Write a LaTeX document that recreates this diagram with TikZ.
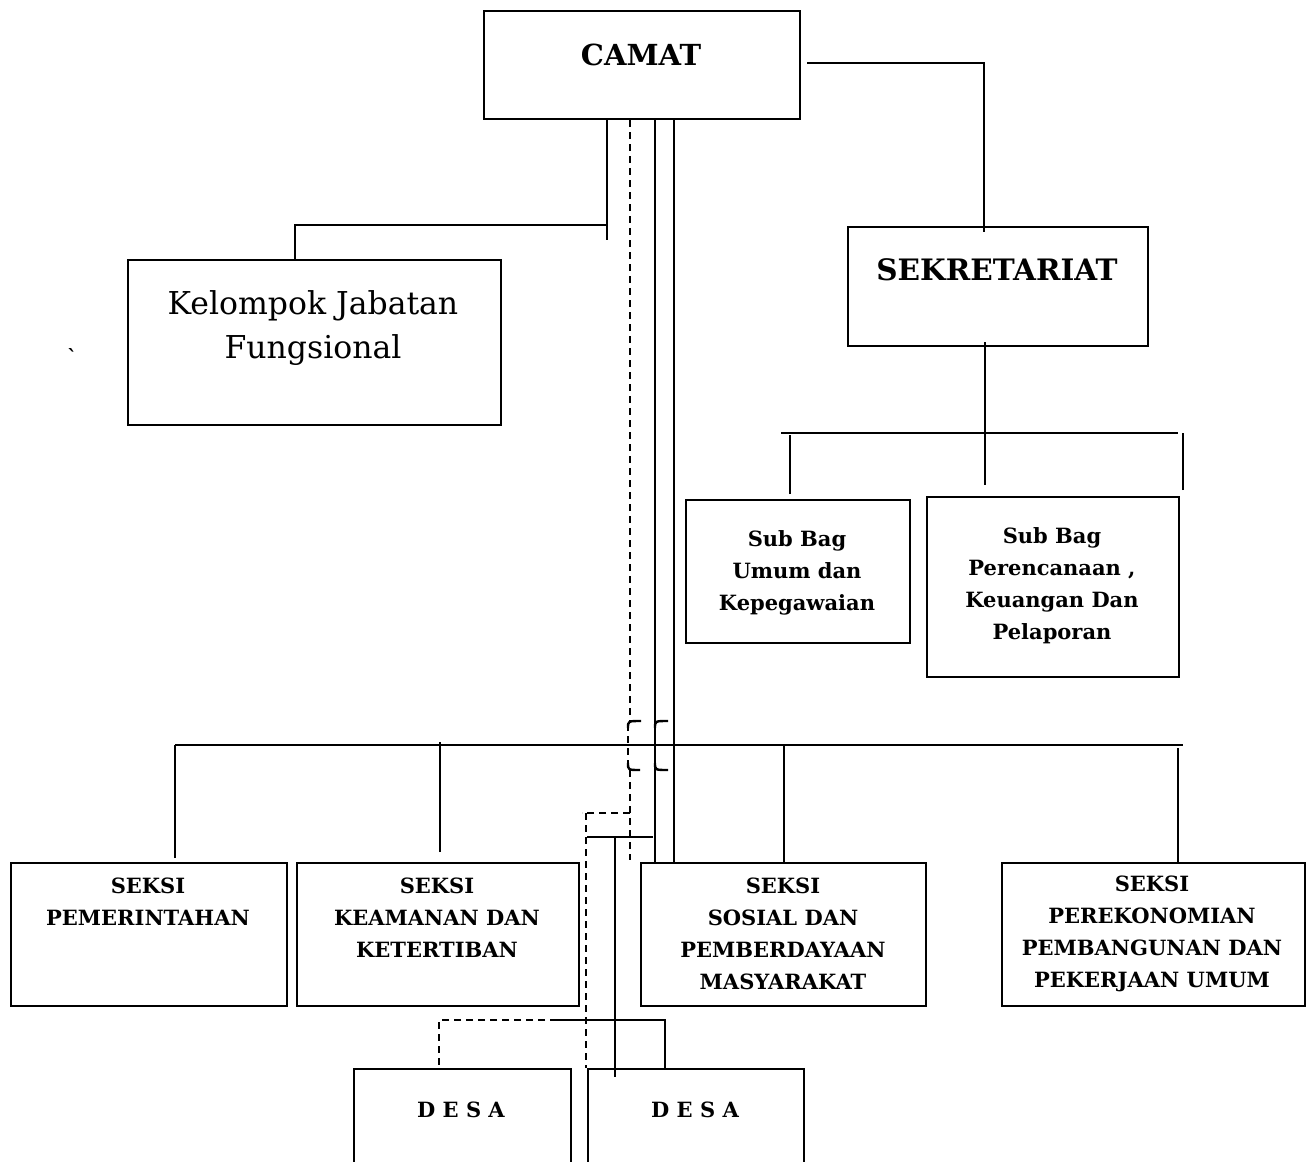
\documentclass[tikz,border=0pt]{standalone}
\usepackage{fontspec}
\setmainfont{DejaVu Serif}
\usetikzlibrary{positioning}

\begin{document}
\begin{tikzpicture}[
        x=1pt, y=-1pt,
        line width=2.4pt,
        kotak/.style={draw, inner sep=0pt, anchor=north west},
        isi/.style={align=center, font=\fontsize{21}{32}\selectfont\bfseries},
        putus/.style={dash pattern=on 7pt off 5pt}
    ]
        \clip (0,0) rectangle (1308,1161);

        % kotak
        \node[kotak, minimum width=316pt, minimum height=108pt] (camat) at (483,10) {};
        \node[kotak, minimum width=373pt, minimum height=165pt] (kelompok) at (127,259) {};
        \node[kotak, minimum width=300pt, minimum height=119pt] (sekretariat) at (847,226) {};
        \node[kotak, minimum width=224pt, minimum height=143pt] (umum) at (685,499) {};
        \node[kotak, minimum width=252pt, minimum height=180pt] (renc) at (926,496) {};
        \node[kotak, minimum width=276pt, minimum height=143pt] (pem) at (10,862) {};
        \node[kotak, minimum width=282pt, minimum height=143pt] (keam) at (296,862) {};
        \node[kotak, minimum width=285pt, minimum height=143pt] (sos) at (640,862) {};
        \node[kotak, minimum width=303pt, minimum height=143pt] (ekon) at (1001,862) {};
        \node[kotak, minimum width=217pt, minimum height=130pt] (desa1) at (353,1068) {};
        \node[kotak, minimum width=216pt, minimum height=130pt] (desa2) at (587,1068) {};

        % tulisan
        \node[font=\fontsize{29}{36}\selectfont\bfseries] (tcamat) at (641,55) {CAMAT};
        \node[align=center, font=\fontsize{31.5}{44}\selectfont] (tkelompok) at (313,328) {Kelompok Jabatan\\Fungsional};
        \node[font=\fontsize{29.5}{36}\selectfont\bfseries] (tsekretariat) at (997,270) {SEKRETARIAT};
        \node[isi] (tumum) at (797,573) {Sub Bag\\Umum dan\\Kepegawaian};
        \node[isi] (trenc) at (1052,586) {Sub Bag\\Perencanaan ,\\Keuangan Dan\\Pelaporan};
        \node[isi] (tpem) at (148,902) {SEKSI\\PEMERINTAHAN};
        \node[isi] (tkeam) at (437,918) {SEKSI\\KEAMANAN DAN\\KETERTIBAN};
        \node[isi] (tsos) at (783,934) {SEKSI\\SOSIAL DAN\\PEMBERDAYAAN\\MASYARAKAT};
        \node[isi] (tekon) at (1152,934) {SEKSI\\PEREKONOMIAN\\PEMBANGUNAN DAN\\PEKERJAAN UMUM};
        \node[isi] (tdesa1) at (461,1110) {D E S A};
        \node[isi] (tdesa2) at (695,1110) {D E S A};
        \node[font=\fontsize{20}{24}\selectfont\bfseries] (tanda) at (72,356) {\textasciigrave};

        % camat ke kelompok jabatan fungsional
        \coordinate (k1) at (607,225);
        \draw ([xshift=124pt]camat.south west) -- ++(0,120);
        \draw (k1) -| ([xshift=168pt]kelompok.north west);

        % camat ke sekretariat
        \draw ([xshift=6pt,yshift=2pt]camat.east) -| ([xshift=137pt,yshift=-6pt]sekretariat.north west);

        % sekretariat ke sub bagian
        \coordinate (sbL) at (781,433);
        \coordinate (sbR) at (1178,433);
        \draw ([xshift=138pt,yshift=5pt]sekretariat.south west) -- ++(0,143);
        \draw (sbL) -- (sbR);
        \draw ([xshift=105pt,yshift=5pt]umum.north west) -- ++(0,-59);
        \draw ([xshift=257pt,yshift=6pt]renc.north west) -- ++(0,-57);

        % camat ke seksi
        \coordinate (bsL) at (175,745);
        \coordinate (bsR) at (1183,745);
        \draw ([xshift=172pt]camat.south west) -- ([xshift=15pt]sos.north west);
        \draw ([xshift=191pt]camat.south west) -- ([xshift=34pt]sos.north west);
        \draw (655,728) .. controls (655,721) .. (668,721);
        \draw (655,763) .. controls (655,770) .. (668,770);
        \draw (bsL) -- (bsR);
        \draw ([xshift=165pt,yshift=4pt]pem.north west) -- (bsL);
        \draw ([xshift=144pt,yshift=10pt]keam.north west) -- ++(0,-110);
        \draw ([xshift=144pt]sos.north west) -- ++(0,-117);
        \draw ([xshift=177pt]ekon.north west) -- ++(0,-114);

        % garis koordinasi (putus-putus)
        \draw[putus] ([xshift=147pt]camat.south west) -- (630,722);
        \draw[putus] (628,724) -- (628,768);
        \draw[putus] (630,770) -- ([xshift=-10pt,yshift=2pt]sos.north west);
        \draw (628,728) .. controls (628,721) .. (641,721);
        \draw (628,763) .. controls (628,770) .. (640,770);
        \coordinate (d1) at (630,813);
        \draw[putus] (d1) -- (582,813);
        \draw[putus] (586,813) -- ([xshift=-1pt]desa2.north west);
        \coordinate (d2) at (557,1020);
        \draw[putus] (d2) -| ([xshift=86pt]desa1.north west);

        % camat ke desa
        \coordinate (s1) at (653,837);
        \draw (s1) -- (587,837);
        \draw (615,837) -- ([xshift=28pt,yshift=-9pt]desa2.north west);
        \draw (d2) -| ([xshift=78pt]desa2.north west);
    \end{tikzpicture}
\end{document}
